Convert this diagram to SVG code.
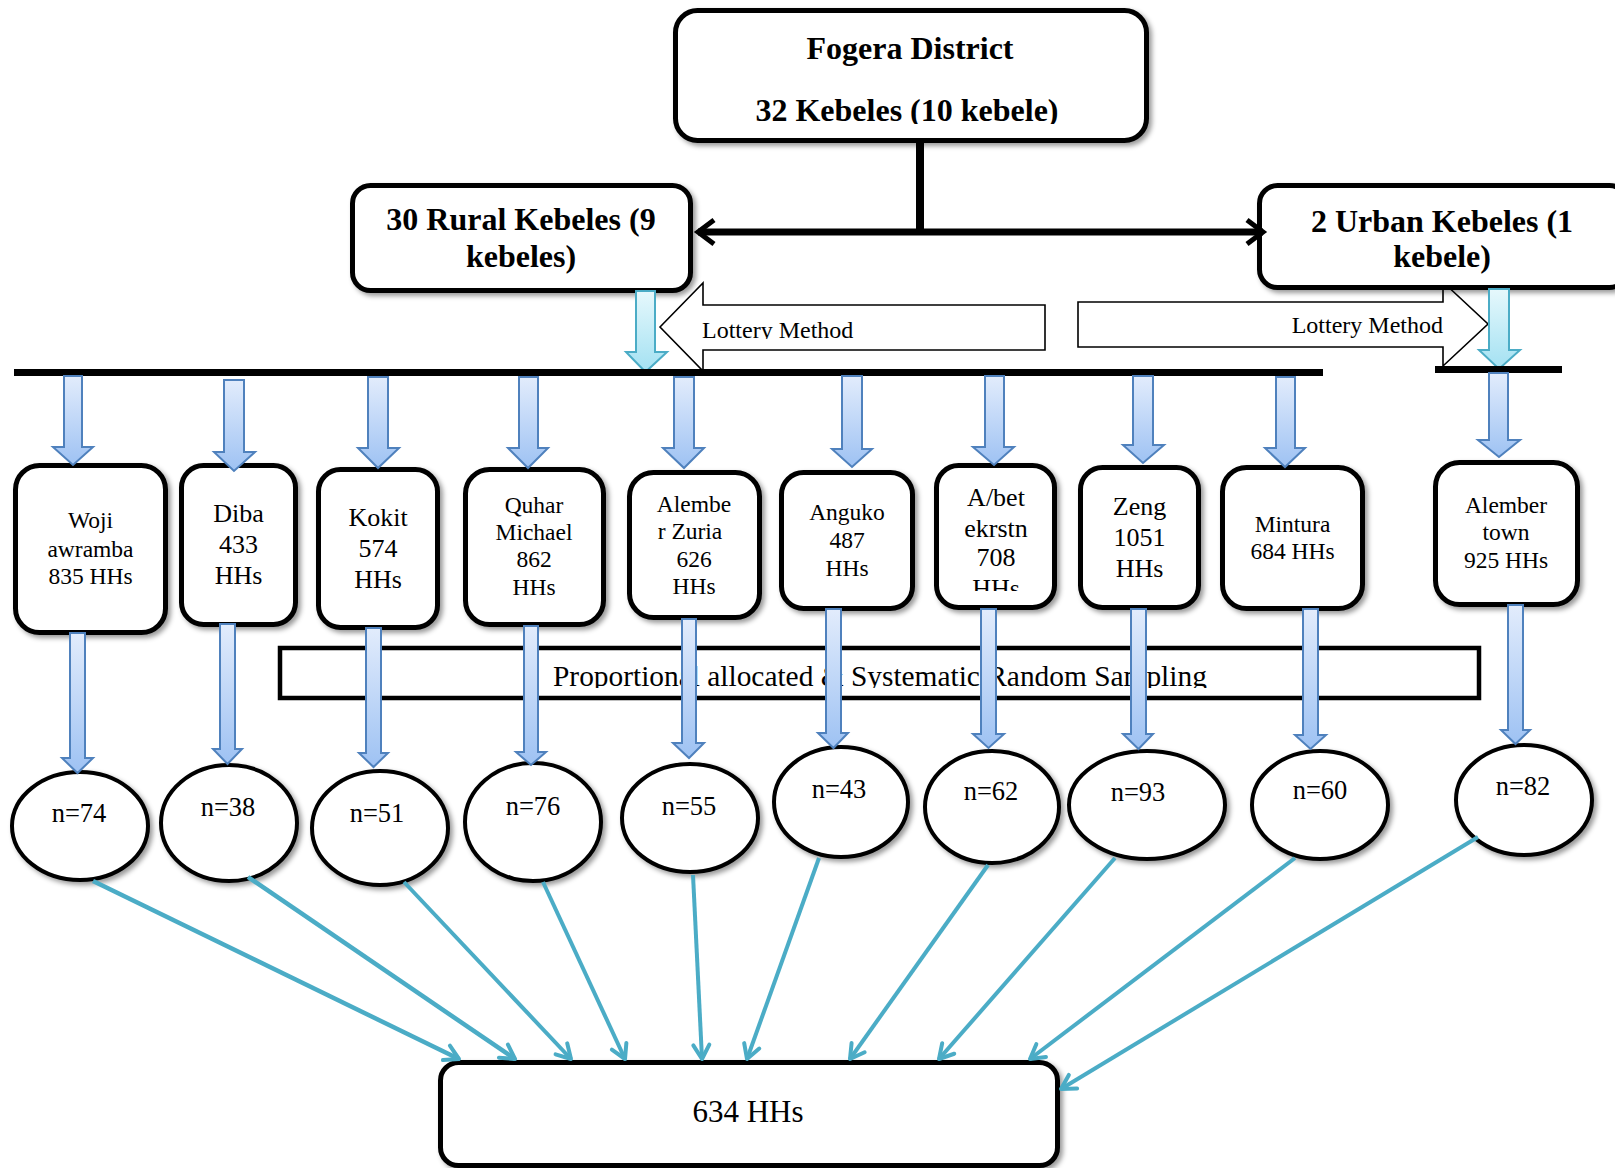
<svg xmlns="http://www.w3.org/2000/svg" width="1615" height="1168" viewBox="0 0 1615 1168">
<style>
.box{fill:#fff;stroke:#000;stroke-width:5;filter:url(#sh)}
.ell{fill:#fff;stroke:#000;stroke-width:4;filter:url(#sh)}
.bt{font-family:"Liberation Serif","Times New Roman",serif;font-weight:bold;font-size:32px;text-anchor:middle;fill:#000}
.t{font-family:"Liberation Serif","Times New Roman",serif;font-size:23.5px;text-anchor:middle;fill:#000}
.t26{font-size:26px}
.nl{font-family:"Liberation Serif","Times New Roman",serif;font-size:26.5px;text-anchor:middle;fill:#000}
.blue{fill:url(#gb);stroke:#4f81bd;stroke-width:2}
.cyan{fill:url(#gc);stroke:#4bacc6;stroke-width:2}
.teal{fill:none;stroke:#4bacc6;stroke-width:4;marker-end:url(#ta)}
.lot{fill:#fff;stroke:#000;stroke-width:1.6}
</style>
<defs>
<filter id="sh" x="-10%" y="-10%" width="130%" height="130%">
<feDropShadow dx="3" dy="3" stdDeviation="2.5" flood-color="#000" flood-opacity="0.4"/>
</filter>
<linearGradient id="gb" x1="0" y1="0" x2="0" y2="1">
<stop offset="0" stop-color="#e2ecfc"/><stop offset="1" stop-color="#9ec2f3"/>
</linearGradient>
<linearGradient id="gc" x1="0" y1="0" x2="0" y2="1">
<stop offset="0" stop-color="#e6f8fc"/><stop offset="1" stop-color="#a3e1f2"/>
</linearGradient>
<marker id="ta" markerUnits="userSpaceOnUse" markerWidth="20" markerHeight="20" viewBox="0 0 20 20" refX="17" refY="10" orient="auto" overflow="visible">
<path d="M3,2 L17,10 L3,18" fill="none" stroke="#4bacc6" stroke-width="4" stroke-linecap="round" stroke-linejoin="round"/>
</marker>
<marker id="ch" markerUnits="userSpaceOnUse" markerWidth="22" markerHeight="28" viewBox="0 0 22 28" refX="19" refY="14" orient="auto-start-reverse" overflow="visible">
<path d="M3,2 L19,14 L3,26" fill="none" stroke="#000" stroke-width="5"/>
</marker>
<clipPath id="c1"><rect x="676" y="70" width="470" height="54"/></clipPath>
<clipPath id="c2"><rect x="700" y="305" width="340" height="34"/></clipPath>
<clipPath id="c3"><rect x="937" y="470" width="117" height="121"/></clipPath>
<clipPath id="c4"><rect x="282" y="650" width="1195" height="38"/></clipPath>
</defs>
<rect width="1615" height="1168" fill="#fff"/>

<g id="sampling-method">
<rect x="280" y="648" width="1199" height="50" fill="#fff" stroke="#000" stroke-width="4.5"/>
<text x="553" y="686" clip-path="url(#c4)" style="font-family:'Liberation Serif','Times New Roman',serif;font-size:29.4px;fill:#000">Proportional allocated &amp; Systematic Random Sampling</text>
</g>

<g id="lottery-left">
<polygon class="lot" points="660,327 703,283 703,305 1045,305 1045,350 703,350 703,371"/>
<text x="702" y="338" clip-path="url(#c2)" style="font-family:'Liberation Serif','Times New Roman',serif;font-size:24px;fill:#000">Lottery Method</text>
</g>
<g id="lottery-right">
<polygon class="lot" points="1078,302 1443,302 1443,282 1488,324 1443,366 1443,347 1078,347"/>
<text x="1443" y="333" text-anchor="end" style="font-family:'Liberation Serif','Times New Roman',serif;font-size:24px;fill:#000">Lottery Method</text>
</g>

<g id="fogera">
<rect class="box" x="675.5" y="10.5" width="471" height="130" rx="22"/>
<text class="bt" x="910" y="59">Fogera District</text>
<text class="bt" x="907" y="121" clip-path="url(#c1)">32 Kebeles (10 kebele)</text>
</g>
<g id="rural">
<rect class="box" x="352.5" y="185.5" width="338" height="105" rx="18"/>
<text class="bt" x="521" y="230">30 Rural Kebeles (9</text>
<text class="bt" x="521" y="267">kebeles)</text>
</g>
<g id="urban">
<rect class="box" x="1259.5" y="185.5" width="368" height="102" rx="18"/>
<text class="bt" x="1442" y="232">2 Urban Kebeles (1</text>
<text class="bt" x="1442" y="267">kebele)</text>
</g>

<g id="woji">
<rect class="box" x="15.5" y="465.5" width="150" height="167" rx="24"/>
<text class="t" x="90.5" y="528">Woji</text>
<text class="t" x="90.5" y="557">awramba</text>
<text class="t" x="90.5" y="584">835 HHs</text>
</g>
<g id="diba">
<rect class="box" x="181.5" y="465.5" width="114" height="159" rx="22"/>
<text class="t t26" x="238.5" y="522">Diba</text>
<text class="t t26" x="238.5" y="553">433</text>
<text class="t t26" x="238.5" y="584">HHs</text>
</g>
<g id="kokit">
<rect class="box" x="318.5" y="469.5" width="119" height="158" rx="22"/>
<text class="t t26" x="378" y="526">Kokit</text>
<text class="t t26" x="378" y="557">574</text>
<text class="t t26" x="378" y="588">HHs</text>
</g>
<g id="quhar">
<rect class="box" x="465.5" y="469.5" width="138" height="155" rx="24"/>
<text class="t" x="534" y="513">Quhar</text>
<text class="t" x="534" y="540">Michael</text>
<text class="t" x="534" y="567">862</text>
<text class="t" x="534" y="595">HHs</text>
</g>
<g id="alember-zuria">
<rect class="box" x="629.5" y="472.5" width="130" height="145" rx="24"/>
<text class="t" x="694" y="512">Alembe</text>
<text class="t" x="690" y="539">r Zuria</text>
<text class="t" x="694" y="567">626</text>
<text class="t" x="694" y="594">HHs</text>
</g>
<g id="anguko">
<rect class="box" x="781.5" y="472.5" width="131" height="136" rx="22"/>
<text class="t" x="847" y="520">Anguko</text>
<text class="t" x="847" y="548">487</text>
<text class="t" x="847" y="576">HHs</text>
</g>
<g id="abet">
<rect class="box" x="936.5" y="465.5" width="118" height="142" rx="22"/>
<g clip-path="url(#c3)">
<text class="t t26" x="996" y="506">A/bet</text>
<text class="t t26" x="996" y="537">ekrstn</text>
<text class="t t26" x="996" y="566">708</text>
<text class="t t26" x="996" y="597">HHs</text>
</g>
</g>
<g id="zeng">
<rect class="box" x="1080.5" y="467.5" width="118" height="140" rx="22"/>
<text class="t t26" x="1139.5" y="515">Zeng</text>
<text class="t t26" x="1139.5" y="546">1051</text>
<text class="t t26" x="1139.5" y="577">HHs</text>
</g>
<g id="mintura">
<rect class="box" x="1222.5" y="467.5" width="140" height="141" rx="24"/>
<text class="t" x="1292.5" y="532">Mintura</text>
<text class="t" x="1292.5" y="559">684 HHs</text>
</g>
<g id="alember-town">
<rect class="box" x="1435.5" y="462.5" width="142" height="142" rx="24"/>
<text class="t" x="1506" y="513">Alember</text>
<text class="t" x="1506" y="540">town</text>
<text class="t" x="1506" y="568">925 HHs</text>
</g>

<g id="n74"><ellipse class="ell" cx="80" cy="826" rx="68" ry="54"/><text class="nl" x="79" y="822">n=74</text></g>
<g id="n38"><ellipse class="ell" cx="229" cy="823" rx="68" ry="58"/><text class="nl" x="228" y="816">n=38</text></g>
<g id="n51"><ellipse class="ell" cx="380" cy="828" rx="68" ry="57"/><text class="nl" x="377" y="822">n=51</text></g>
<g id="n76"><ellipse class="ell" cx="533" cy="822" rx="68" ry="59"/><text class="nl" x="533" y="815">n=76</text></g>
<g id="n55"><ellipse class="ell" cx="690" cy="818" rx="68" ry="54"/><text class="nl" x="689" y="815">n=55</text></g>
<g id="n43"><ellipse class="ell" cx="841" cy="802" rx="67" ry="55"/><text class="nl" x="839" y="798">n=43</text></g>
<g id="n62"><ellipse class="ell" cx="992" cy="807" rx="67" ry="56"/><text class="nl" x="991" y="800">n=62</text></g>
<g id="n93"><ellipse class="ell" cx="1147" cy="805" rx="78" ry="54"/><text class="nl" x="1138" y="801">n=93</text></g>
<g id="n60"><ellipse class="ell" cx="1320" cy="805" rx="68" ry="54"/><text class="nl" x="1320" y="799">n=60</text></g>
<g id="n82"><ellipse class="ell" cx="1524" cy="800" rx="68" ry="55"/><text class="nl" x="1523" y="795">n=82</text></g>

<g id="total">
<rect class="box" x="440.5" y="1062.5" width="617" height="103" rx="18"/>
<text x="748" y="1122" style="font-family:'Liberation Serif','Times New Roman',serif;font-size:31px;text-anchor:middle;fill:#000">634 HHs</text>
</g>

<g id="connectors">
<line x1="920" y1="141" x2="920" y2="232" stroke="#000" stroke-width="8"/>
<line x1="698" y1="232" x2="1263" y2="232" stroke="#000" stroke-width="7" marker-start="url(#ch)" marker-end="url(#ch)"/>
<path class="cyan" d="M636,291 H655 V352 H667 L645.5,372 L626,352 H636 Z"/>
<path class="cyan" d="M1489,289 H1509 V350 H1520 L1499,369 L1479,350 H1489 Z"/>
<rect x="14" y="369" width="1309" height="7" fill="#000"/>
<rect x="1435" y="366" width="127" height="7" fill="#000"/>
<path class="blue" d="M64,376 H82 V447 H93 L73,465 L53,447 H64 Z"/>
<path class="blue" d="M224,380 H244 V452 H255 L234,471 L214,452 H224 Z"/>
<path class="blue" d="M368,377 H388 V448 H399 L378,468 L358,448 H368 Z"/>
<path class="blue" d="M519,377 H538 V448 H548 L528,468 L508,448 H519 Z"/>
<path class="blue" d="M674,377 H694 V448 H704 L684,468 L663,448 H674 Z"/>
<path class="blue" d="M842,376 H862 V449 H872 L852,467 L832,449 H842 Z"/>
<path class="blue" d="M985,376 H1004 V447 H1014 L994,465 L973,447 H985 Z"/>
<path class="blue" d="M1133,376 H1153 V445 H1164 L1143,463 L1123,445 H1133 Z"/>
<path class="blue" d="M1276,377 H1295 V448 H1305 L1285,467 L1265,448 H1276 Z"/>
<path class="blue" d="M1489,373 H1508 V440 H1520 L1499,457 L1478,440 H1489 Z"/>
<path class="blue" d="M70,633 H85 V758 H93 L77.5,773 L62,758 H70 Z"/>
<path class="blue" d="M220,624 H235 V749 H242 L227.5,764 L213,749 H220 Z"/>
<path class="blue" d="M366,628 H381 V753 H388 L373.5,767 L359,753 H366 Z"/>
<path class="blue" d="M524,626 H538 V752 H546 L531,765 L516,752 H524 Z"/>
<path class="blue" d="M682,619 H696 V743 H704 L689,758 L673,743 H682 Z"/>
<path class="blue" d="M826,609 H841 V733 H848 L833.5,748 L818,733 H826 Z"/>
<path class="blue" d="M981,609 H996 V734 H1004 L988.5,748 L973,734 H981 Z"/>
<path class="blue" d="M1131,609 H1146 V734 H1153 L1138.5,749 L1123,734 H1131 Z"/>
<path class="blue" d="M1303,609 H1318 V735 H1326 L1310.5,749 L1295,735 H1303 Z"/>
<path class="blue" d="M1508,605 H1523 V730 H1530 L1515.5,744 L1501,730 H1508 Z"/>
<line class="teal" x1="93" y1="881" x2="459" y2="1059" style="stroke-width:4.5"/>
<line class="teal" x1="248" y1="877" x2="515" y2="1059" style="stroke-width:4.5"/>
<line class="teal" x1="404" y1="882" x2="571" y2="1059"/>
<line class="teal" x1="543" y1="882" x2="625" y2="1059"/>
<line class="teal" x1="693" y1="875" x2="702" y2="1059"/>
<line class="teal" x1="819" y1="858" x2="747" y2="1059"/>
<line class="teal" x1="988" y1="865" x2="850" y2="1059"/>
<line class="teal" x1="1115" y1="858" x2="939" y2="1059"/>
<line class="teal" x1="1295" y1="858" x2="1030" y2="1059"/>
<line class="teal" x1="1478" y1="837" x2="1061" y2="1089"/>
</g>
</svg>
